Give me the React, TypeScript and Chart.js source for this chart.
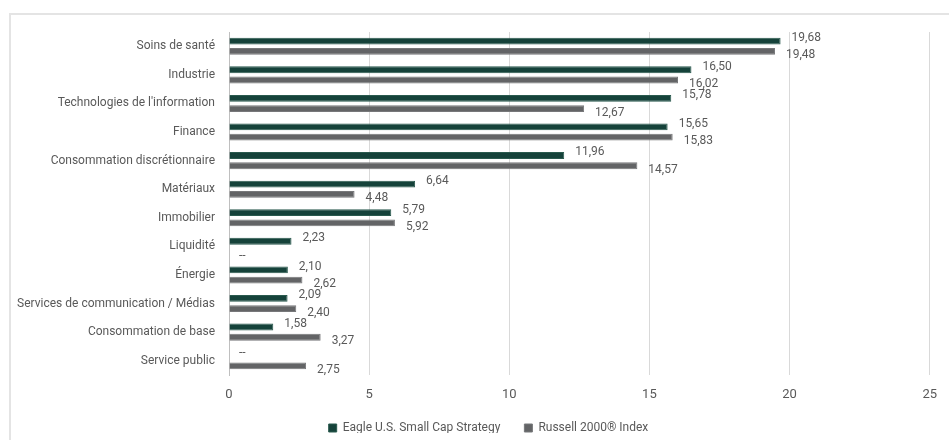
import React, { useEffect, useRef } from "react";
import { Chart, registerables } from "chart.js";

Chart.register(...registerables);

const categories = [
  "Soins de santé",
  "Industrie",
  "Technologies de l'information",
  "Finance",
  "Consommation discrétionnaire",
  "Matériaux",
  "Immobilier",
  "Liquidité",
  "Énergie",
  "Services de communication / Médias",
  "Consommation de base",
  "Service public",
];
const eagleValues: (number | null)[] = [19.68, 16.5, 15.78, 15.65, 11.96, 6.64, 5.79, 2.23, 2.1, 2.09, 1.58, null];
const russellValues: (number | null)[] = [19.48, 16.02, 12.67, 15.83, 14.57, 4.48, 5.92, null, 2.62, 2.4, 3.27, 2.75];
const seriesNames = ["Eagle U.S. Small Cap Strategy", "Russell 2000® Index"];
const xTicks = [0, 5, 10, 15, 20, 25];

const FONT = "Roboto, 'DejaVu Sans Condensed', sans-serif";
const GREEN = "#15423a";
const GREY = "#636466";
const TEXT = "#595959";

const labelPlugin = {
  id: "barLabels",
  afterDatasetsDraw(chart: any) {
    const ctx = chart.ctx;
    const xScale = chart.scales.x;
    ctx.save();
    ctx.font = `12px ${FONT}`;
    ctx.fillStyle = TEXT;
    ctx.textAlign = "left";
    ctx.textBaseline = "middle";
    chart.data.datasets.forEach((ds: any, di: number) => {
      const meta = chart.getDatasetMeta(di);
      meta.data.forEach((bar: any, i: number) => {
        const v = ds.data[i];
        const dy = di === 0 ? -3 : 4;
        const y = bar.y + dy;
        if (v === null || v === undefined) {
          ctx.fillText("--", xScale.getPixelForValue(0) + 10, y);
        } else {
          const txt = v.toFixed(2).replace(".", ",");
          ctx.fillText(txt, bar.x + 11, y);
        }
      });
    });
    ctx.restore();
  },
};

const legendFitPlugin = {
  id: "legendFit",
  beforeLayout(chart: any) {
    const lg = chart.legend;
    if (lg && !lg.__patched) {
      const orig = lg.fit;
      lg.fit = function (this: any) {
        orig.call(this);
        this.height = 35;
      };
      lg.__patched = true;
    }
  },
  afterLayout(chart: any) {
    const lg = chart.legend;
    if (lg) {
      lg.left += 44;
      lg.top -= 7;
      lg.bottom -= 7;
    }
  },
};

export default function App() {
  const ref = useRef<HTMLCanvasElement | null>(null);
  useEffect(() => {
    document.body.style.margin = "0";
    const chart = new Chart(ref.current as HTMLCanvasElement, {
      type: "bar",
      data: {
        labels: categories,
        datasets: [
          {
            label: seriesNames[0],
            data: eagleValues,
            backgroundColor: GREEN,
            borderColor: "#2a5a4e",
            borderWidth: 1,
            categoryPercentage: 0.72,
            barPercentage: 0.66,
          },
          {
            label: seriesNames[1],
            data: russellValues,
            backgroundColor: GREY,
            borderColor: "#77787a",
            borderWidth: 1,
            categoryPercentage: 0.72,
            barPercentage: 0.66,
          },
        ],
      },
      options: {
        indexAxis: "y",
        animation: false,
        responsive: false,
        layout: { padding: { left: 0, right: 16, top: 32, bottom: 0 } },
        scales: {
          x: {
            min: 0,
            max: 25,
            afterBuildTicks: (scale: any) => {
              scale.ticks = xTicks.map((v) => ({ value: v }));
            },
            afterFit: (scale: any) => {
              scale.height = 30;
            },
            grid: { color: "#d9d9d9", lineWidth: 1, drawTicks: false },
            border: { display: false },
            ticks: { color: TEXT, font: { family: FONT, size: 13 }, padding: 12 },
          },
          y: {
            afterFit: (scale: any) => {
              scale.width = 229;
            },
            grid: { display: false, drawTicks: false },
            border: { display: true, color: "#bfbfbf", width: 1 },
            ticks: { color: TEXT, font: { family: FONT, size: 12 }, padding: 14 },
          },
        },
        plugins: {
          legend: {
            position: "bottom",
            labels: {
              boxWidth: 8,
              boxHeight: 8,
              color: TEXT,
              font: { family: FONT, size: 12 },
              padding: 24,
            },
          },
          tooltip: { enabled: false },
        },
      },
      plugins: [labelPlugin, legendFitPlugin],
    } as any);
    return () => chart.destroy();
  }, []);
  return (
    <div style={{ position: "relative", width: 949, height: 440, background: "#fff", overflow: "hidden" }}>
      <div
        style={{
          position: "absolute",
          left: 9,
          top: 13,
          width: 960,
          height: 460,
          borderTop: "2px solid #e4e4e4",
          borderLeft: "2px solid #e4e4e4",
        }}
      />
      <canvas ref={ref} width={949} height={440} style={{ position: "absolute", left: 0, top: 0 }} />
    </div>
  );
}
